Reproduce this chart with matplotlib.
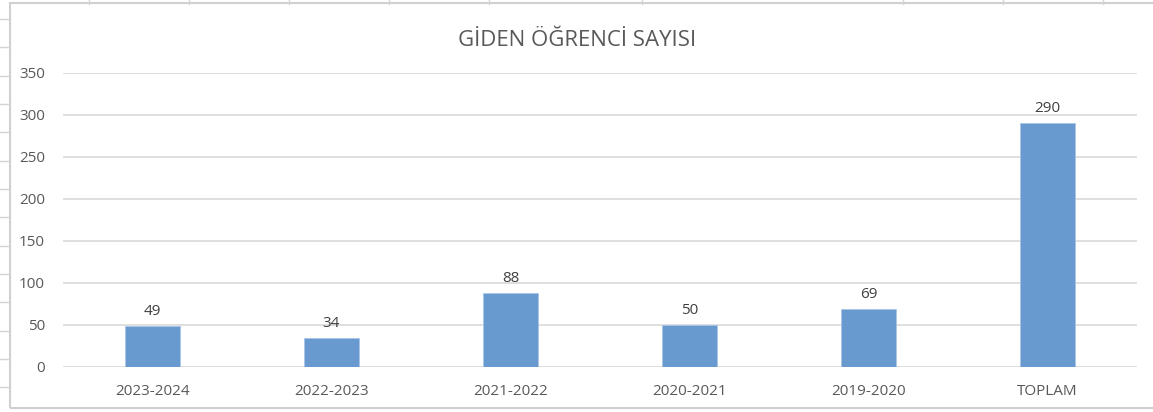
import matplotlib
matplotlib.use("Agg")
import matplotlib.pyplot as plt
from matplotlib.lines import Line2D
from matplotlib.patches import Rectangle

categories = ["2023-2024", "2022-2023", "2021-2022", "2020-2021", "2019-2020", "TOPLAM"]
values = [49, 34, 88, 50, 69, 290]
yticks = [0, 50, 100, 150, 200, 250, 300, 350]
title = "GİDEN ÖĞRENCİ SAYISI"

W, H = 1153, 412
plt.rcParams['font.family'] = ['Open Sans', 'DejaVu Sans']
fig = plt.figure(figsize=(W / 100, H / 100), dpi=100)
fig.patch.set_facecolor('white')

# spreadsheet background cells (decoration)
cell_col = '#D4D4D4'
for x in [89, 189, 289, 389, 489, 642, 903, 1003, 1103]:
    fig.add_artist(Line2D([x / W, x / W], [1, 1 - 4 / H], color=cell_col, lw=1))
for y in [19, 47, 76, 104, 132, 161, 189, 217, 246, 274, 302, 331, 359, 387]:
    fig.add_artist(Line2D([0, 10 / W], [1 - y / H, 1 - y / H], color=cell_col, lw=1))
# chart border
fig.add_artist(Rectangle((10 / W, 1 - 408 / H), (W + 5) / W, (405) / H,
                         transform=fig.transFigure, fill=False,
                         edgecolor='#D0D0D0', lw=1.5))

ax = fig.add_axes([63 / W, 45 / H, 1074 / W, 294 / H])
x = range(len(categories))
bars = ax.bar(x, values, width=0.31, color='#689AD0', edgecolor='#A9C4E6',
              linewidth=0.6, zorder=3)
ax.set_xlim(-0.5, len(categories) - 0.5)
ax.set_ylim(0, 350)
ax.set_yticks(yticks)
ax.set_xticks(list(x))
ax.set_xticklabels(categories)
for s in ax.spines.values():
    s.set_visible(False)
ax.grid(axis='y', color='#D9D9D9', lw=1.2, zorder=0)
ax.tick_params(axis='both', length=0, colors='#595959', labelsize=11)
ax.tick_params(axis='x', pad=12)
ax.tick_params(axis='y', pad=13)
for lbl in ax.get_yticklabels():
    lbl.set_horizontalalignment('right')
for xi, v in zip(x, values):
    ax.annotate(str(v), (xi, v), xytext=(0, 5), textcoords='offset points',
                ha='center', va='bottom', fontsize=11, color='#404040')

fig.text(577 / W, 1 - 40 / H, title, ha='center', va='center',
         fontsize=16, color='#595959')

fig.savefig('out.png', dpi=100, facecolor='white')
